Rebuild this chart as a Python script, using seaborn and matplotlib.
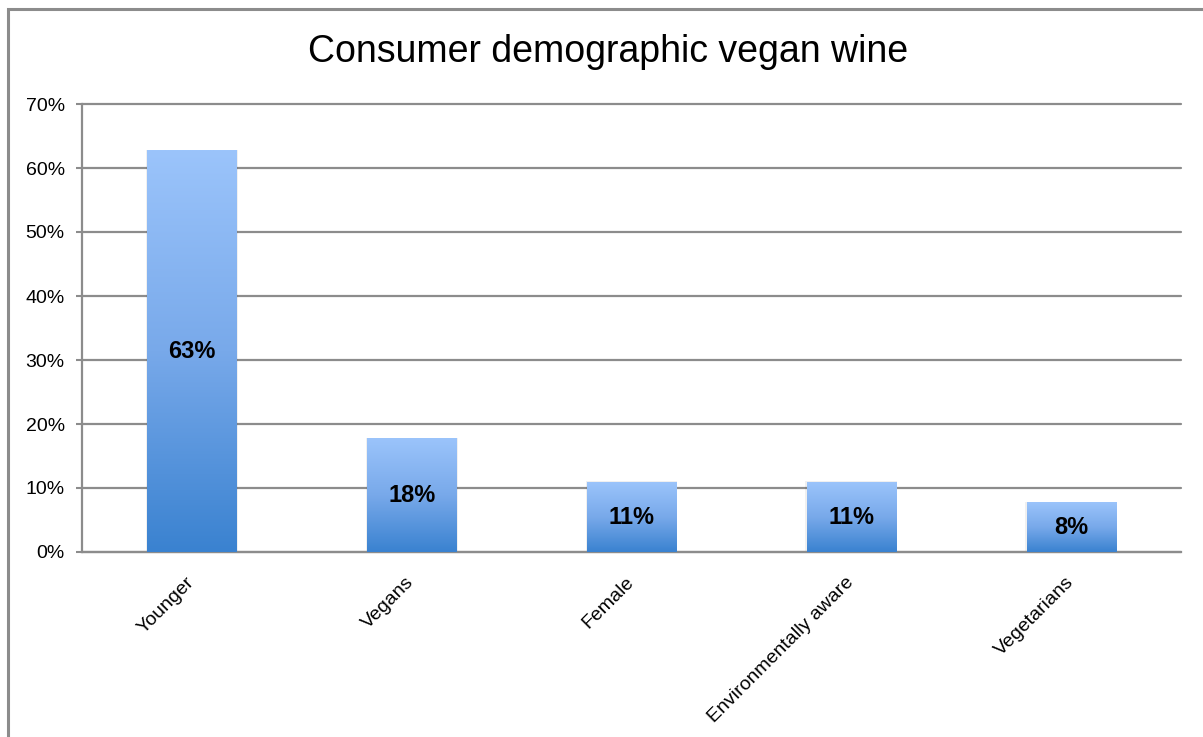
import numpy as np
import pandas as pd
import seaborn as sns
import matplotlib
matplotlib.use("Agg")
import matplotlib.pyplot as plt
from matplotlib.colors import LinearSegmentedColormap
from matplotlib.patches import Rectangle

categories = ["Younger", "Vegans", "Female", "Environmentally aware", "Vegetarians"]
values = [62.7, 17.7, 10.9, 10.9, 7.7]
value_labels = ["63%", "18%", "11%", "11%", "8%"]
yticks = [0, 10, 20, 30, 40, 50, 60, 70]
ytick_labels = ["0%", "10%", "20%", "30%", "40%", "50%", "60%", "70%"]
title = "Consumer demographic vegan wine"

sns.set_theme(style="white")
plt.rcParams['font.family'] = ['Liberation Sans', 'DejaVu Sans']

W, H = 1203, 737
fig = plt.figure(figsize=(W / 100, H / 100), dpi=100)
fig.patch.set_facecolor("white")
ax = fig.add_axes([82 / W, 1 - 552 / H, (1181 - 82) / W, (552 - 104) / H])

df = pd.DataFrame({"cat": categories, "val": values})
sns.barplot(data=df, x="cat", y="val", order=categories, ax=ax, width=0.405,
            color="#6fa3e6", saturation=1, errorbar=None)

grey = "#8c8c8c"
cmap = LinearSegmentedColormap.from_list("g", ["#3A82D0", "#78A9EA", "#9BC4FB"])
grad = np.linspace(0, 1, 256).reshape(-1, 1)
for p in list(ax.patches):
    x0, y0 = p.get_x(), p.get_y()
    w, h = p.get_width(), p.get_height()
    # soft shadow
    ax.add_patch(Rectangle((x0 - 0.006, y0), w + 0.012, h + 0.15, facecolor="#000000",
                           alpha=0.06, edgecolor="none", zorder=2.5))
    ax.imshow(grad, cmap=cmap, extent=[x0, x0 + w, y0, y0 + h], origin="lower",
              aspect="auto", zorder=3, interpolation="bilinear")
    p.set_visible(False)

for i, (v, lab) in enumerate(zip(values, value_labels)):
    ax.text(i, v / 2, lab, ha="center", va="center", fontsize=17,
            fontweight="bold", color="black", zorder=5)

ax.set_xlim(-0.5, len(categories) - 0.5)
ax.set_ylim(0, 70)
ax.set_yticks(yticks)
ax.set_yticklabels(ytick_labels, fontsize=14, color="black")
ax.set_xticks(range(len(categories)))
ax.set_xticklabels(categories, rotation=45, ha="right", va="center",
                   rotation_mode="anchor", fontsize=14, color="black")
ax.set_xticks(np.arange(-0.5, len(categories), 1.0), minor=True)
ax.tick_params(axis="x", which="major", length=0, pad=20)
ax.tick_params(axis="x", which="minor", length=6, width=1.5, color=grey, direction="out")
ax.tick_params(axis="y", which="major", length=4.5, width=1.5, color=grey,
               direction="out", pad=8, left=True)
ax.set_xlabel("")
ax.set_ylabel("")

ax.yaxis.grid(True, color=grey, linewidth=1.6)
ax.xaxis.grid(False)
ax.set_axisbelow(True)
for gl in ax.yaxis.get_gridlines():
    gl.set_clip_on(False)
for s in ["top", "right"]:
    ax.spines[s].set_visible(False)
for s in ["left", "bottom"]:
    ax.spines[s].set_color(grey)
    ax.spines[s].set_linewidth(1.6)

fig.text(608 / W, 1 - 52 / H, title, ha="center", va="center", fontsize=27, color="black")

fig.patches.append(Rectangle((8 / W, -0.2), 1.5, 1.2 - 9 / H, transform=fig.transFigure,
                             fill=False, edgecolor=grey, linewidth=2.2))

fig.savefig("out.png", dpi=100)
